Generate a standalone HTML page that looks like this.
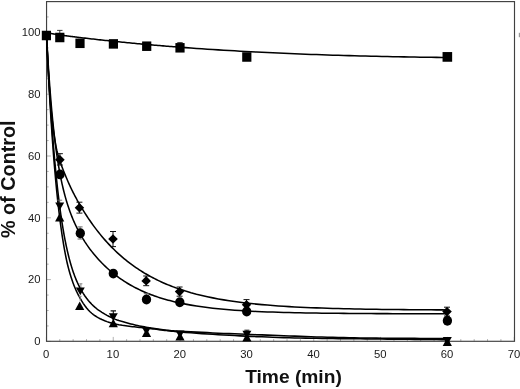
<!DOCTYPE html>
<html><head><meta charset="utf-8"><title>Time course</title>
<style>html,body{margin:0;padding:0;background:#fff}svg{display:block}text{font-family:"Liberation Sans",Arial,sans-serif;fill:#1a1a1a}.tl{font-size:11.7px}.ax{font-size:18.7px;font-weight:bold;fill:#111}</style></head><body>
<svg width="520" height="389" viewBox="0 0 520 389">
<rect width="520" height="389" fill="#fff"/>
<path d="M46.40,341.40v-4.5M59.77,341.40v-2.3M73.14,341.40v-2.3M86.50,341.40v-2.3M99.87,341.40v-2.3M113.24,341.40v-4.5M126.61,341.40v-2.3M139.98,341.40v-2.3M153.34,341.40v-2.3M166.71,341.40v-2.3M180.08,341.40v-4.5M193.45,341.40v-2.3M206.82,341.40v-2.3M220.18,341.40v-2.3M233.55,341.40v-2.3M246.92,341.40v-4.5M260.29,341.40v-2.3M273.66,341.40v-2.3M287.02,341.40v-2.3M300.39,341.40v-2.3M313.76,341.40v-4.5M327.13,341.40v-2.3M340.50,341.40v-2.3M353.86,341.40v-2.3M367.23,341.40v-2.3M380.60,341.40v-4.5M393.97,341.40v-2.3M407.34,341.40v-2.3M420.70,341.40v-2.3M434.07,341.40v-2.3M447.44,341.40v-4.5M460.81,341.40v-2.3M474.18,341.40v-2.3M487.54,341.40v-2.3M500.91,341.40v-2.3M514.28,341.40v-4.5M46.40,341.40h4.5M46.40,325.95h2.3M46.40,310.50h2.3M46.40,295.05h2.3M46.40,279.60h4.5M46.40,264.15h2.3M46.40,248.70h2.3M46.40,233.25h2.3M46.40,217.80h4.5M46.40,202.35h2.3M46.40,186.90h2.3M46.40,171.45h2.3M46.40,156.00h4.5M46.40,140.55h2.3M46.40,125.10h2.3M46.40,109.65h2.3M46.40,94.20h4.5M46.40,78.75h2.3M46.40,63.30h2.3M46.40,47.85h2.3M46.40,32.40h4.5M46.40,16.95h2.3M46.40,1.50h2.3" stroke="#9a9a9a" stroke-width="0.75" fill="none"/>
<rect x="46.55" y="1.6" width="467.95" height="339.70" fill="none" stroke="#404040" stroke-width="1.15"/>
<rect x="518.8" y="32.8" width="1.2" height="4.4" fill="#9a9a9a"/>
<text class="tl" transform="translate(46.1,357.6) scale(0.965,1)" text-anchor="middle">0</text>
<text class="tl" transform="translate(112.9,357.6) scale(0.965,1)" text-anchor="middle">10</text>
<text class="tl" transform="translate(179.8,357.6) scale(0.965,1)" text-anchor="middle">20</text>
<text class="tl" transform="translate(246.6,357.6) scale(0.965,1)" text-anchor="middle">30</text>
<text class="tl" transform="translate(313.5,357.6) scale(0.965,1)" text-anchor="middle">40</text>
<text class="tl" transform="translate(380.3,357.6) scale(0.965,1)" text-anchor="middle">50</text>
<text class="tl" transform="translate(447.1,357.6) scale(0.965,1)" text-anchor="middle">60</text>
<text class="tl" transform="translate(514.0,357.6) scale(0.965,1)" text-anchor="middle">70</text>
<text class="tl" transform="translate(40.6,345.1) scale(0.965,1)" text-anchor="end">0</text>
<text class="tl" transform="translate(40.6,283.3) scale(0.965,1)" text-anchor="end">20</text>
<text class="tl" transform="translate(40.6,221.5) scale(0.965,1)" text-anchor="end">40</text>
<text class="tl" transform="translate(40.6,159.7) scale(0.965,1)" text-anchor="end">60</text>
<text class="tl" transform="translate(40.6,97.9) scale(0.965,1)" text-anchor="end">80</text>
<text class="tl" transform="translate(40.6,36.1) scale(0.965,1)" text-anchor="end">100</text>
<text class="ax" style="font-size:19.2px" x="293.5" y="383.3" text-anchor="middle">Time (min)</text>
<text class="ax" style="font-size:19.8px" transform="translate(15.3,179.2) rotate(-90)" text-anchor="middle">% of Control</text>
<path d="M46.40,32.70 L46.82,32.77 L47.25,32.85 L47.67,32.92 L48.09,33.00 L48.52,33.07 L48.94,33.14 L49.36,33.22 L49.78,33.29 L50.21,33.36 L50.63,33.44 L51.05,33.51 L51.48,33.58 L51.90,33.65 L52.32,33.73 L52.75,33.80 L53.17,33.87 L53.59,33.94 L54.01,34.02 L54.44,34.09 L54.86,34.16 L55.28,34.23 L55.71,34.30 L56.13,34.38 L56.55,34.45 L56.98,34.52 L57.40,34.59 L57.82,34.66 L58.25,34.73 L58.67,34.80 L59.09,34.88 L59.51,34.95 L59.94,35.01 L60.36,35.07 L60.78,35.12 L61.21,35.18 L61.63,35.23 L62.05,35.29 L62.48,35.34 L62.90,35.40 L63.32,35.45 L63.74,35.51 L64.17,35.56 L64.59,35.61 L65.01,35.67 L65.44,35.72 L65.86,35.78 L66.28,35.83 L66.71,35.88 L67.13,35.94 L67.55,35.99 L67.97,36.05 L68.40,36.10 L68.82,36.15 L69.24,36.21 L69.67,36.26 L70.09,36.31 L70.51,36.37 L70.94,36.42 L71.36,36.47 L71.78,36.52 L72.21,36.58 L72.63,36.63 L73.05,36.68 L73.47,36.73 L73.90,36.79 L74.32,36.84 L74.74,36.89 L75.17,36.94 L75.59,36.99 L76.01,37.05 L76.44,37.10 L76.86,37.15 L77.28,37.20 L77.70,37.25 L78.13,37.30 L78.55,37.36 L78.97,37.41 L79.40,37.46 L79.82,37.51 L81.52,37.71 L83.22,37.91 L84.92,38.12 L86.62,38.31 L88.32,38.51 L90.02,38.71 L91.72,38.90 L93.41,39.10 L95.11,39.29 L96.81,39.48 L98.51,39.67 L100.21,39.86 L101.91,40.04 L103.61,40.23 L105.31,40.41 L107.01,40.59 L108.71,40.78 L110.41,40.95 L112.11,41.13 L113.81,41.31 L115.51,41.49 L117.21,41.66 L118.90,41.83 L120.60,42.00 L122.30,42.17 L124.00,42.34 L125.70,42.51 L127.40,42.68 L129.10,42.84 L130.80,43.01 L132.50,43.17 L134.20,43.33 L135.90,43.49 L137.60,43.65 L139.30,43.81 L141.00,43.96 L142.69,44.12 L144.39,44.27 L146.09,44.42 L147.79,44.57 L149.49,44.72 L151.19,44.87 L152.89,45.02 L154.59,45.17 L156.29,45.31 L157.99,45.46 L159.69,45.60 L161.39,45.74 L163.09,45.88 L164.79,46.02 L166.49,46.16 L168.18,46.30 L169.88,46.44 L171.58,46.57 L173.28,46.70 L174.98,46.84 L176.68,46.97 L178.38,47.10 L180.08,47.23 L185.54,47.64 L190.99,48.04 L196.45,48.42 L201.91,48.80 L207.36,49.17 L212.82,49.53 L218.27,49.87 L223.73,50.21 L229.19,50.54 L234.64,50.85 L240.10,51.16 L245.56,51.46 L251.01,51.75 L256.47,52.03 L261.92,52.31 L267.38,52.57 L272.84,52.83 L278.29,53.08 L283.75,53.32 L289.21,53.55 L294.66,53.78 L300.12,54.00 L305.58,54.21 L311.03,54.41 L316.49,54.60 L321.94,54.79 L327.40,54.98 L332.86,55.15 L338.31,55.32 L343.77,55.48 L349.23,55.64 L354.68,55.79 L360.14,55.94 L365.60,56.07 L371.05,56.21 L376.51,56.33 L381.96,56.45 L387.42,56.57 L392.88,56.68 L398.33,56.79 L403.79,56.89 L409.25,56.98 L414.70,57.07 L420.16,57.16 L425.61,57.24 L431.07,57.31 L436.53,57.38 L441.98,57.45 L447.44,57.51" fill="none" stroke="#000" stroke-width="1.55" stroke-linejoin="round"/>
<path d="M46.40,32.70 L46.80,42.01 L47.20,50.64 L47.60,58.64 L48.00,66.07 L48.40,72.97 L48.79,79.38 L49.19,85.35 L49.58,90.91 L49.97,96.10 L50.37,100.95 L50.76,105.47 L51.14,109.71 L51.53,113.69 L51.91,117.41 L52.29,120.92 L52.66,124.21 L53.04,127.32 L53.42,130.25 L53.80,133.02 L54.18,135.64 L54.57,138.13 L54.95,140.49 L55.33,142.73 L55.71,144.87 L56.10,146.91 L56.51,148.86 L56.92,150.73 L57.36,152.52 L57.82,154.24 L58.30,155.90 L58.78,157.49 L59.27,159.03 L59.76,160.51 L60.25,161.95 L60.72,163.34 L61.19,164.69 L61.66,166.00 L62.14,167.28 L62.61,168.52 L63.09,169.73 L63.56,170.92 L64.03,172.07 L64.50,173.20 L64.95,174.31 L65.41,175.39 L65.85,176.46 L66.28,177.50 L66.71,178.53 L67.13,179.54 L67.55,180.53 L67.97,181.51 L68.40,182.47 L68.82,183.42 L69.24,184.36 L69.67,185.28 L70.09,186.19 L70.51,187.09 L70.94,187.98 L71.36,188.86 L71.78,189.73 L72.21,190.59 L72.63,191.44 L73.05,192.28 L73.47,193.11 L73.90,193.94 L74.32,194.75 L74.74,195.56 L75.17,196.36 L75.59,197.16 L76.01,197.94 L76.44,198.73 L76.86,199.50 L77.28,200.27 L77.70,201.03 L78.13,201.78 L78.55,202.53 L78.97,203.27 L79.40,204.01 L79.82,204.74 L81.52,207.62 L83.22,210.41 L84.92,213.13 L86.62,215.76 L88.32,218.32 L90.02,220.81 L91.72,223.23 L93.41,225.59 L95.11,227.88 L96.81,230.11 L98.51,232.27 L100.21,234.38 L101.91,236.43 L103.61,238.43 L105.31,240.37 L107.01,242.26 L108.71,244.10 L110.41,245.89 L112.11,247.63 L113.81,249.32 L115.51,250.97 L117.21,252.57 L118.90,254.13 L120.60,255.64 L122.30,257.12 L124.00,258.56 L125.70,259.95 L127.40,261.31 L129.10,262.64 L130.80,263.92 L132.50,265.17 L134.20,266.39 L135.90,267.58 L137.60,268.73 L139.30,269.85 L141.00,270.94 L142.69,272.01 L144.39,273.04 L146.09,274.04 L147.79,275.02 L149.49,275.97 L151.19,276.90 L152.89,277.80 L154.59,278.68 L156.29,279.53 L157.99,280.36 L159.69,281.17 L161.39,281.95 L163.09,282.72 L164.79,283.46 L166.49,284.18 L168.18,284.89 L169.88,285.57 L171.58,286.24 L173.28,286.89 L174.98,287.52 L176.68,288.13 L178.38,288.73 L180.08,289.31 L185.54,291.07 L190.99,292.68 L196.45,294.16 L201.91,295.51 L207.36,296.75 L212.82,297.88 L218.27,298.92 L223.73,299.87 L229.19,300.74 L234.64,301.54 L240.10,302.27 L245.56,302.94 L251.01,303.55 L256.47,304.11 L261.92,304.62 L267.38,305.09 L272.84,305.52 L278.29,305.92 L283.75,306.28 L289.21,306.61 L294.66,306.91 L300.12,307.19 L305.58,307.44 L311.03,307.67 L316.49,307.89 L321.94,308.08 L327.40,308.26 L332.86,308.42 L338.31,308.57 L343.77,308.71 L349.23,308.84 L354.68,308.95 L360.14,309.06 L365.60,309.15 L371.05,309.24 L376.51,309.32 L381.96,309.40 L387.42,309.46 L392.88,309.53 L398.33,309.58 L403.79,309.63 L409.25,309.68 L414.70,309.73 L420.16,309.77 L425.61,309.80 L431.07,309.84 L436.53,309.87 L441.98,309.89 L447.44,309.92" fill="none" stroke="#000" stroke-width="1.55" stroke-linejoin="round"/>
<path d="M46.40,32.70 L46.82,40.56 L47.25,48.08 L47.67,55.27 L48.09,62.14 L48.52,68.72 L48.94,75.01 L49.36,81.03 L49.78,86.80 L50.21,92.32 L50.63,97.61 L51.05,102.68 L51.48,107.55 L51.90,112.21 L52.32,116.68 L52.75,120.98 L53.17,125.10 L53.59,129.06 L54.01,132.87 L54.44,136.53 L54.86,140.05 L55.28,143.43 L55.71,146.69 L56.13,149.83 L56.55,152.85 L56.98,155.76 L57.40,158.57 L57.82,161.28 L58.25,163.89 L58.67,166.41 L59.09,168.85 L59.51,171.21 L59.94,173.48 L60.36,175.68 L60.78,177.82 L61.21,179.88 L61.63,181.88 L62.05,183.82 L62.48,185.69 L62.90,187.52 L63.32,189.28 L63.74,191.00 L64.17,192.67 L64.59,194.29 L65.01,195.87 L65.44,197.40 L65.86,198.89 L66.28,200.35 L66.71,201.76 L67.13,203.14 L67.55,204.49 L67.97,205.80 L68.40,207.09 L68.82,208.34 L69.24,209.56 L69.67,210.76 L70.09,211.92 L70.51,213.07 L70.94,214.18 L71.36,215.28 L71.78,216.35 L72.21,217.40 L72.63,218.43 L73.05,219.44 L73.47,220.43 L73.90,221.40 L74.32,222.36 L74.74,223.29 L75.17,224.21 L75.59,225.11 L76.01,226.00 L76.44,226.87 L76.86,227.73 L77.28,228.58 L77.70,229.41 L78.13,230.23 L78.55,231.03 L78.97,231.82 L79.40,232.60 L79.82,233.37 L81.52,236.36 L83.22,239.18 L84.92,241.86 L86.62,244.41 L88.32,246.84 L90.02,249.17 L91.72,251.39 L93.41,253.53 L95.11,255.58 L96.81,257.56 L98.51,259.46 L100.21,261.28 L101.91,263.05 L103.61,264.74 L105.31,266.38 L107.01,267.96 L108.71,269.49 L110.41,270.97 L112.11,272.39 L113.81,273.76 L115.51,275.09 L117.21,276.38 L118.90,277.62 L120.60,278.81 L122.30,279.97 L124.00,281.09 L125.70,282.18 L127.40,283.22 L129.10,284.24 L130.80,285.21 L132.50,286.16 L134.20,287.07 L135.90,287.96 L137.60,288.81 L139.30,289.64 L141.00,290.44 L142.69,291.21 L144.39,291.96 L146.09,292.68 L147.79,293.38 L149.49,294.06 L151.19,294.71 L152.89,295.34 L154.59,295.95 L156.29,296.54 L157.99,297.11 L159.69,297.66 L161.39,298.20 L163.09,298.71 L164.79,299.21 L166.49,299.70 L168.18,300.16 L169.88,300.61 L171.58,301.05 L173.28,301.47 L174.98,301.88 L176.68,302.27 L178.38,302.66 L180.08,303.02 L185.54,304.13 L190.99,305.12 L196.45,306.01 L201.91,306.81 L207.36,307.52 L212.82,308.17 L218.27,308.75 L223.73,309.26 L229.19,309.73 L234.64,310.15 L240.10,310.52 L245.56,310.86 L251.01,311.16 L256.47,311.43 L261.92,311.68 L267.38,311.90 L272.84,312.09 L278.29,312.27 L283.75,312.43 L289.21,312.57 L294.66,312.70 L300.12,312.81 L305.58,312.91 L311.03,313.01 L316.49,313.09 L321.94,313.16 L327.40,313.23 L332.86,313.29 L338.31,313.34 L343.77,313.39 L349.23,313.44 L354.68,313.48 L360.14,313.51 L365.60,313.54 L371.05,313.57 L376.51,313.60 L381.96,313.62 L387.42,313.64 L392.88,313.66 L398.33,313.67 L403.79,313.69 L409.25,313.70 L414.70,313.71 L420.16,313.72 L425.61,313.73 L431.07,313.74 L436.53,313.75 L441.98,313.76 L447.44,313.76" fill="none" stroke="#000" stroke-width="1.55" stroke-linejoin="round"/>
<path d="M46.40,32.70 L46.82,41.35 L47.25,49.73 L47.67,57.84 L48.09,65.68 L48.52,73.28 L48.94,80.63 L49.36,87.75 L49.78,94.64 L50.21,101.32 L50.63,107.77 L51.05,114.03 L51.48,120.08 L51.90,125.95 L52.32,131.62 L52.75,137.12 L53.17,142.45 L53.59,147.60 L54.01,152.60 L54.44,157.43 L54.86,162.12 L55.28,166.65 L55.71,171.05 L56.13,175.31 L56.55,179.43 L56.98,183.43 L57.40,187.30 L57.82,191.05 L58.25,194.69 L58.67,198.21 L59.09,201.62 L59.51,204.93 L59.94,208.14 L60.36,211.25 L60.78,214.26 L61.21,217.18 L61.63,220.01 L62.05,222.76 L62.48,225.42 L62.90,228.00 L63.32,230.50 L63.74,232.93 L64.17,235.28 L64.59,237.57 L65.01,239.78 L65.44,241.93 L65.86,244.02 L66.28,246.04 L66.71,248.00 L67.13,249.91 L67.55,251.76 L67.97,253.55 L68.40,255.29 L68.82,256.98 L69.24,258.63 L69.67,260.22 L70.09,261.77 L70.51,263.27 L70.94,264.73 L71.36,266.15 L71.78,267.53 L72.21,268.87 L72.63,270.17 L73.05,271.43 L73.47,272.66 L73.90,273.86 L74.32,275.02 L74.74,276.15 L75.17,277.25 L75.59,278.32 L76.01,279.35 L76.44,280.37 L76.86,281.35 L77.28,282.31 L77.70,283.24 L78.13,284.14 L78.55,285.02 L78.97,285.88 L79.40,286.72 L79.82,287.53 L81.52,290.61 L83.22,293.42 L84.92,295.98 L86.62,298.31 L88.32,300.45 L90.02,302.40 L91.72,304.19 L93.41,305.86 L95.11,307.38 L96.81,308.77 L98.51,310.03 L100.21,311.20 L101.91,312.31 L103.61,313.36 L105.31,314.36 L107.01,315.31 L108.71,316.21 L110.41,317.04 L112.11,317.85 L113.81,318.63 L115.51,319.35 L117.21,320.01 L118.90,320.58 L120.60,321.08 L122.30,321.53 L124.00,321.99 L125.70,322.47 L127.40,322.96 L129.10,323.44 L130.80,323.89 L132.50,324.32 L134.20,324.74 L135.90,325.14 L137.60,325.52 L139.30,325.89 L141.00,326.25 L142.69,326.58 L144.39,326.88 L146.09,327.16 L147.79,327.42 L149.49,327.68 L151.19,327.95 L152.89,328.25 L154.59,328.56 L156.29,328.86 L157.99,329.13 L159.69,329.38 L161.39,329.60 L163.09,329.80 L164.79,329.99 L166.49,330.18 L168.18,330.36 L169.88,330.53 L171.58,330.70 L173.28,330.84 L174.98,330.97 L176.68,331.08 L178.38,331.18 L180.08,331.27 L185.54,331.57 L190.99,331.86 L196.45,332.12 L201.91,332.37 L207.36,332.63 L212.82,332.91 L218.27,333.16 L223.73,333.40 L229.19,333.62 L234.64,333.83 L240.10,334.04 L245.56,334.24 L251.01,334.45 L256.47,334.67 L261.92,334.89 L267.38,335.11 L272.84,335.32 L278.29,335.52 L283.75,335.72 L289.21,335.93 L294.66,336.14 L300.12,336.35 L305.58,336.55 L311.03,336.73 L316.49,336.90 L321.94,337.07 L327.40,337.22 L332.86,337.36 L338.31,337.49 L343.77,337.61 L349.23,337.73 L354.68,337.84 L360.14,337.93 L365.60,338.02 L371.05,338.08 L376.51,338.13 L381.96,338.18 L387.42,338.22 L392.88,338.26 L398.33,338.30 L403.79,338.33 L409.25,338.36 L414.70,338.39 L420.16,338.42 L425.61,338.44 L431.07,338.46 L436.53,338.48 L441.98,338.49 L447.44,338.50" fill="none" stroke="#000" stroke-width="1.55" stroke-linejoin="round"/>
<path d="M46.40,32.70 L46.82,41.98 L47.25,50.97 L47.67,59.66 L48.09,68.07 L48.52,76.20 L48.94,84.08 L49.36,91.70 L49.78,99.07 L50.21,106.20 L50.63,113.11 L51.05,119.79 L51.48,126.25 L51.90,132.50 L52.32,138.56 L52.75,144.41 L53.17,150.08 L53.59,155.57 L54.01,160.88 L54.44,166.01 L54.86,170.99 L55.28,175.80 L55.71,180.46 L56.13,184.96 L56.55,189.32 L56.98,193.55 L57.40,197.63 L57.82,201.59 L58.25,205.42 L58.67,209.12 L59.09,212.71 L59.51,216.18 L59.94,219.54 L60.36,222.79 L60.78,225.94 L61.21,228.99 L61.63,231.94 L62.05,234.80 L62.48,237.56 L62.90,240.24 L63.32,242.83 L63.74,245.34 L64.17,247.77 L64.59,250.13 L65.01,252.41 L65.44,254.61 L65.86,256.75 L66.28,258.82 L66.71,260.81 L67.13,262.72 L67.55,264.53 L67.97,266.27 L68.40,267.93 L68.82,269.52 L69.24,271.05 L69.67,272.52 L70.09,273.94 L70.51,275.32 L70.94,276.67 L71.36,277.98 L71.78,279.27 L72.21,280.53 L72.63,281.75 L73.05,282.93 L73.47,284.07 L73.90,285.18 L74.32,286.25 L74.74,287.28 L75.17,288.29 L75.59,289.26 L76.01,290.21 L76.44,291.14 L76.86,292.03 L77.28,292.91 L77.70,293.76 L78.13,294.59 L78.55,295.41 L78.97,296.20 L79.40,296.99 L79.82,297.75 L81.52,300.66 L83.22,303.34 L84.92,305.80 L86.62,308.02 L88.32,310.01 L90.02,311.74 L91.72,313.26 L93.41,314.59 L95.11,315.77 L96.81,316.84 L98.51,317.83 L100.21,318.73 L101.91,319.56 L103.61,320.32 L105.31,321.01 L107.01,321.63 L108.71,322.18 L110.41,322.70 L112.11,323.18 L113.81,323.63 L115.51,324.04 L117.21,324.42 L118.90,324.77 L120.60,325.07 L122.30,325.35 L124.00,325.59 L125.70,325.82 L127.40,326.03 L129.10,326.23 L130.80,326.44 L132.50,326.65 L134.20,326.85 L135.90,327.04 L137.60,327.23 L139.30,327.41 L141.00,327.59 L142.69,327.77 L144.39,327.94 L146.09,328.12 L147.79,328.30 L149.49,328.48 L151.19,328.68 L152.89,328.88 L154.59,329.09 L156.29,329.30 L157.99,329.51 L159.69,329.71 L161.39,329.92 L163.09,330.14 L164.79,330.37 L166.49,330.59 L168.18,330.80 L169.88,331.00 L171.58,331.17 L173.28,331.34 L174.98,331.50 L176.68,331.66 L178.38,331.81 L180.08,331.96 L185.54,332.41 L190.99,332.83 L196.45,333.23 L201.91,333.61 L207.36,333.97 L212.82,334.32 L218.27,334.66 L223.73,334.98 L229.19,335.29 L234.64,335.59 L240.10,335.87 L245.56,336.13 L251.01,336.38 L256.47,336.61 L261.92,336.84 L267.38,337.05 L272.84,337.25 L278.29,337.44 L283.75,337.62 L289.21,337.77 L294.66,337.91 L300.12,338.03 L305.58,338.14 L311.03,338.24 L316.49,338.34 L321.94,338.42 L327.40,338.49 L332.86,338.56 L338.31,338.62 L343.77,338.68 L349.23,338.73 L354.68,338.77 L360.14,338.82 L365.60,338.87 L371.05,338.93 L376.51,338.99 L381.96,339.06 L387.42,339.12 L392.88,339.17 L398.33,339.23 L403.79,339.28 L409.25,339.34 L414.70,339.39 L420.16,339.44 L425.61,339.49 L431.07,339.54 L436.53,339.59 L441.98,339.65 L447.44,339.70" fill="none" stroke="#000" stroke-width="1.55" stroke-linejoin="round"/>
<path d="M59.8,30.4V37.0M57.1,30.4h5.4" stroke="#222" stroke-width="0.9" fill="none"/>
<path d="M180.0,42.6V47.0M177.3,42.6h5.4" stroke="#222" stroke-width="0.9" fill="none"/>
<rect x="41.80" y="30.75" width="9.2" height="9.5" fill="#000"/>
<rect x="55.20" y="32.75" width="9.2" height="9.5" fill="#000"/>
<rect x="75.40" y="38.55" width="9.2" height="9.5" fill="#000"/>
<rect x="108.80" y="39.15" width="9.2" height="9.5" fill="#000"/>
<rect x="142.10" y="41.45" width="9.2" height="9.5" fill="#000"/>
<rect x="175.40" y="43.05" width="9.2" height="9.5" fill="#000"/>
<rect x="242.20" y="52.25" width="9.2" height="9.5" fill="#000"/>
<rect x="442.55" y="52.05" width="9.6" height="9.7" fill="#000"/>
<path d="M59.9,153.7V165.0M56.9,153.7h6M56.9,165.0h6" stroke="#111" stroke-width="1" fill="none"/>
<path d="M59.9,154.9L64.7,159.7L59.9,164.4L55.1,159.7Z" fill="#000"/>
<path d="M79.4,202.2V213.1M76.4,202.2h6M76.4,213.1h6" stroke="#111" stroke-width="1" fill="none"/>
<path d="M79.4,203.1L84.2,207.8L79.4,212.6L74.7,207.8Z" fill="#000"/>
<path d="M113.0,231.5V246.6M110.0,231.5h6M110.0,246.6h6" stroke="#111" stroke-width="1" fill="none"/>
<path d="M113.0,234.2L117.8,239.0L113.0,243.8L108.2,239.0Z" fill="#000"/>
<path d="M146.2,276.0V285.7M143.2,276.0h6M143.2,285.7h6" stroke="#111" stroke-width="1" fill="none"/>
<path d="M146.2,276.1L150.9,280.9L146.2,285.6L141.4,280.9Z" fill="#000"/>
<path d="M179.6,287.0V296.2M176.6,287.0h6M176.6,296.2h6" stroke="#111" stroke-width="1" fill="none"/>
<path d="M179.6,286.9L184.3,291.6L179.6,296.4L174.8,291.6Z" fill="#000"/>
<path d="M246.5,299.6V309.8M243.5,299.6h6M243.5,309.8h6" stroke="#111" stroke-width="1" fill="none"/>
<path d="M246.5,299.9L251.2,304.7L246.5,309.4L241.8,304.7Z" fill="#000"/>
<path d="M447.0,307.2V316.0M444.0,307.2h6M444.0,316.0h6" stroke="#111" stroke-width="1" fill="none"/>
<path d="M447.0,306.9L451.8,311.6L447.0,316.4L442.2,311.6Z" fill="#000"/>
<path d="M80.1,226.9V239.0M77.6,226.9h5M77.6,239.0h5" stroke="#555" stroke-width="0.9" fill="none"/>
<path d="M146.3,293.6V296.0M143.8,293.6h5" stroke="#666" stroke-width="0.9" fill="none"/>
<ellipse cx="60.0" cy="174.4" rx="4.65" ry="4.95" fill="#000"/>
<ellipse cx="80.3" cy="233.3" rx="4.65" ry="4.95" fill="#000"/>
<ellipse cx="113.3" cy="273.6" rx="4.65" ry="4.95" fill="#000"/>
<ellipse cx="146.5" cy="299.5" rx="4.65" ry="4.95" fill="#000"/>
<ellipse cx="179.8" cy="302.3" rx="4.65" ry="4.95" fill="#000"/>
<ellipse cx="246.7" cy="311.5" rx="4.65" ry="4.95" fill="#000"/>
<ellipse cx="447.4" cy="320.7" rx="4.65" ry="4.95" fill="#000"/>
<path d="M80.9,283.8V288.0M79.4,283.8h3" stroke="#777" stroke-width="0.9" fill="none"/>
<path d="M113.3,310.9V314.0M110.6,310.9h5.4" stroke="#111" stroke-width="1.1" fill="none"/>
<path d="M246.9,330.2V332.0M244.4,330.2h5" stroke="#111" stroke-width="1" fill="none"/>
<path d="M59.7,200.2V203.0M57.2,200.2h5" stroke="#666" stroke-width="0.9" fill="none"/>
<path d="M55.2,202.4h9L59.7,210.2Z" fill="#000"/>
<path d="M75.8,287.5h9L80.3,295.3Z" fill="#000"/>
<path d="M108.8,313.2h9L113.3,321.0Z" fill="#000"/>
<path d="M141.9,327.3h9L146.4,335.1Z" fill="#000"/>
<path d="M175.5,330.4h9L180.0,338.2Z" fill="#000"/>
<path d="M242.4,330.8h9L246.9,338.6Z" fill="#000"/>
<path d="M442.8,337.1h9L447.3,344.9Z" fill="#000"/>
<path d="M80.2,296.3V301.0M78.7,296.3h3" stroke="#888" stroke-width="0.9" fill="none"/>
<path d="M55.1,221.4h9.2L59.7,212.9Z" fill="#000"/>
<path d="M75.1,310.0h9.2L79.7,301.5Z" fill="#000"/>
<path d="M108.7,327.3h9.2L113.3,318.8Z" fill="#000"/>
<path d="M141.9,337.0h9.2L146.5,328.5Z" fill="#000"/>
<path d="M175.4,340.4h9.2L180.0,331.9Z" fill="#000"/>
<path d="M242.3,341.4h9.2L246.9,332.9Z" fill="#000"/>
<path d="M442.7,345.9h9.2L447.3,337.4Z" fill="#000"/>
</svg></body></html>
